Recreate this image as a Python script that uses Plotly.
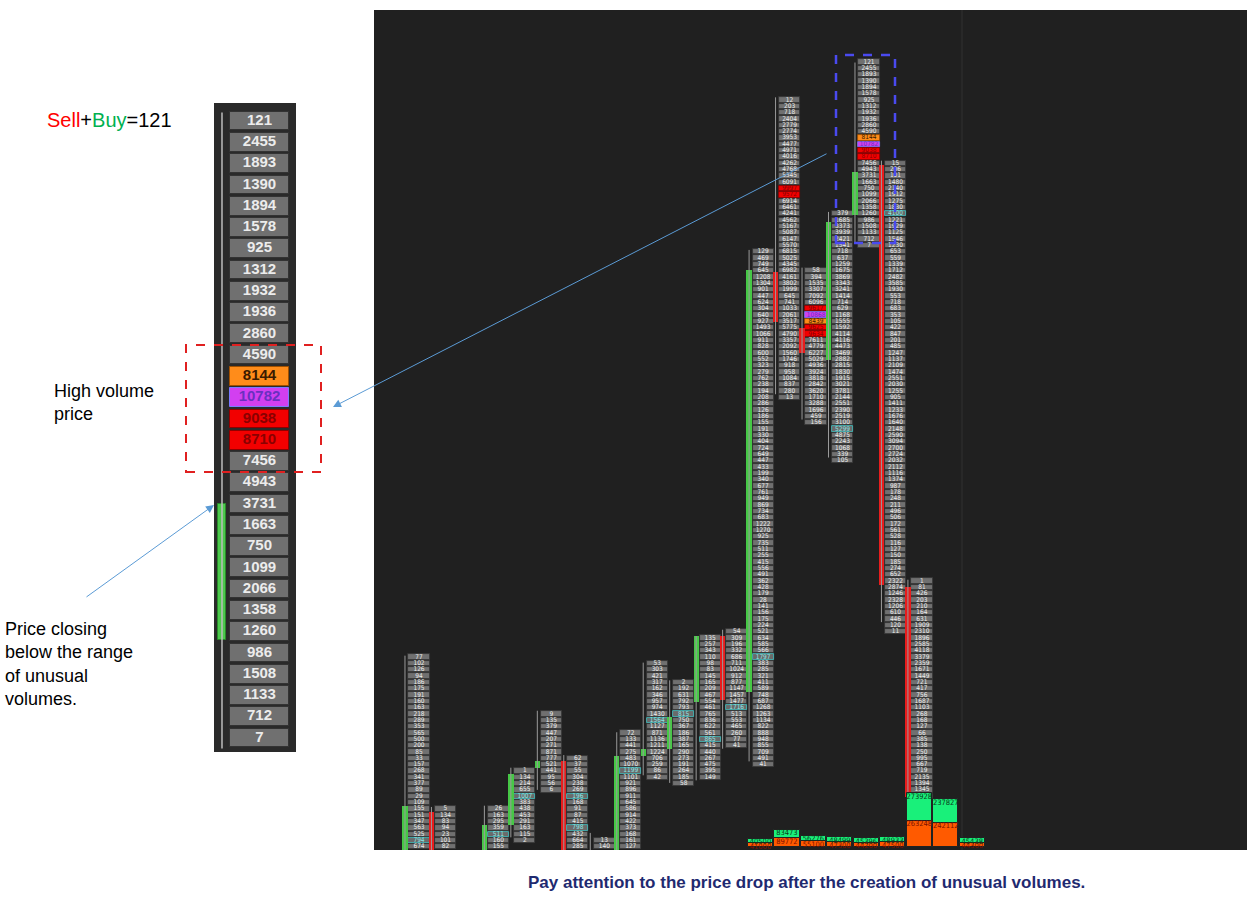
import plotly.graph_objects as go

# ---------------- data ----------------
# left zoomed footprint column (top to bottom)
left_vals = [121, 2455, 1893, 1390, 1894, 1578, 925, 1312, 1932, 1936, 2860, 4590, 8144, 10782,
             9038, 8710, 7456, 4943, 3731, 1663, 750, 1099, 2066, 1358, 1260, 986, 1508, 1133, 712, 7]
left_flags = ["", "", "", "", "", "", "", "", "", "", "", "", "o", "m", "r", "r", "", "", "", "", "",
              "", "", "", "", "", "", "", "", ""]
left_candle = dict(open=4.6, close=11.0, high=29.4, low=-0.5)

# right footprint chart: bar index, top price level, volumes (top to bottom)
bar_index = [0, 1, 3, 4, 5, 6, 7, 8, 9, 10, 11, 12, 13, 14, 15, 16, 17, 18, 19]
bar_top = [30, 6, 6, 12, 21, 14, 1, 18, 29, 26, 33, 34, 94, 118, 91, 100, 124, 108, 42]
bar_vols = [
    [77, 102, 126, 94, 186, 175, 191, 160, 163, 218, 289, 353, 565, 500, 200, 85, 33, 157, 268, 341, 377, 89, 29, 109, 155, 151, 347, 563, 525, 794, 674, 511],
    [5, 134, 83, 94, 23, 101, 82, 222],
    [26, 163, 295, 359, 511, 160, 155, 117],
    [1, 134, 214, 655, 1007, 383, 438, 453, 291, 163, 115, 2],
    [9, 135, 379, 447, 207, 271, 871, 777, 521, 441, 95, 56, 6],
    [62, 37, 55, 304, 238, 269, 196, 168, 91, 87, 415, 798, 432, 664, 285, 123],
    [13, 140, 189],
    [72, 133, 441, 275, 483, 1070, 1199, 1101, 921, 896, 911, 645, 586, 914, 422, 373, 168, 161, 127, 156],
    [53, 303, 421, 317, 162, 346, 957, 974, 1430, 1564, 1127, 871, 1136, 1211, 1224, 706, 259, 86, 42],
    [2, 192, 631, 792, 793, 815, 750, 367, 186, 387, 165, 290, 273, 191, 264, 185, 58],
    [135, 257, 343, 110, 98, 83, 145, 165, 209, 467, 554, 461, 765, 836, 622, 561, 865, 415, 440, 267, 475, 395, 149],
    [54, 309, 196, 332, 686, 711, 1024, 912, 877, 1147, 1457, 1477, 1716, 513, 553, 465, 260, 77, 41],
    [129, 469, 749, 645, 1208, 1304, 901, 447, 624, 304, 640, 927, 1493, 1066, 911, 828, 600, 552, 323, 279, 762, 238, 194, 208, 286, 126, 186, 155, 191, 330, 404, 724, 649, 447, 433, 199, 340, 677, 761, 949, 869, 734, 683, 1222, 1270, 925, 735, 511, 255, 415, 556, 491, 362, 428, 179, 28, 141, 156, 175, 224, 521, 634, 585, 566, 1797, 383, 285, 321, 411, 589, 748, 687, 1268, 1263, 1134, 822, 888, 948, 855, 709, 491, 41],
    [12, 203, 718, 2404, 2779, 2774, 3953, 4477, 4971, 4016, 4262, 4768, 5345, 6091, 9997, 9572, 6914, 6461, 4241, 4562, 5167, 5087, 6147, 5570, 6815, 5025, 4345, 6982, 4161, 3802, 1999, 645, 741, 1033, 2061, 3517, 5775, 4790, 3357, 2092, 1560, 1746, 918, 958, 1084, 837, 280, 13],
    [58, 394, 1535, 3307, 7092, 6096, 9617, 10868, 8439, 9625, 9634, 7611, 4779, 6227, 5029, 4936, 3924, 3818, 2842, 3620, 1710, 3288, 1696, 459, 156],
    [379, 1685, 3373, 3939, 2421, 1541, 718, 637, 1259, 1675, 3869, 3343, 3241, 1414, 714, 629, 1168, 1555, 1592, 4114, 4116, 4473, 3469, 2882, 2815, 1830, 1915, 3021, 3781, 2144, 2551, 2390, 2519, 3100, 5299, 4875, 2243, 1068, 339, 105],
    [121, 2455, 1893, 1390, 1894, 1578, 925, 1312, 1932, 1936, 2860, 4590, 8144, 10782, 9038, 8710, 7456, 4943, 3731, 1663, 750, 1099, 2066, 1358, 1260, 986, 1508, 1133, 712, 7],
    [15, 206, 101, 1480, 2140, 1912, 1275, 1830, 4100, 1221, 1929, 1125, 1546, 1230, 653, 559, 1339, 1712, 2482, 3585, 1930, 553, 718, 683, 353, 105, 422, 847, 201, 485, 1247, 1137, 2109, 1474, 2551, 2030, 1255, 905, 1411, 1233, 1676, 1640, 2148, 2590, 3094, 2700, 2724, 2032, 2112, 1116, 1374, 987, 178, 248, 211, 496, 506, 172, 561, 528, 116, 127, 150, 185, 274, 652, 2322, 2874, 1246, 2328, 1206, 610, 446, 120, 11],
    [1, 81, 426, 203, 210, 164, 631, 1909, 2310, 1896, 2585, 4118, 3379, 2359, 1671, 1449, 721, 417, 756, 1687, 1103, 268, 168, 127, 66, 385, 138, 250, 995, 667, 719, 2135, 1394, 1345, 819],
]
# highlighted cells: (bar position in list, row offset from top, kind)
highlights = [(0, 29, "c"), (3, 4, "c"), (2, 4, "c"), (5, 6, "c"), (5, 11, "c"), (7, 6, "c"),
              (8, 9, "c"), (9, 5, "c"), (10, 16, "c"), (11, 12, "c"), (12, 64, "c"),
              (13, 14, "r"), (13, 15, "r"),
              (14, 6, "r"), (14, 7, "m"), (14, 8, "o"), (14, 9, "r"), (14, 10, "r"),
              (15, 34, "c"), (16, 12, "o"), (16, 13, "m"), (16, 14, "r"), (16, 15, "r"), (17, 8, "c")]
# candles in price levels
c_open = [-1, 6, -1, 4, 13, 14, 0.5, -1, 14.8, 16, 23.4, 33.8, 25, 91.3, 82.5, 77.4, 100.3, 108.2, 41.5]
c_close = [7, -1, 4, 12, 14, -1, 0.5, 14.8, 16, 21, 33.8, 23.7, 91.6, 83.4, 78.5, 99.2, 107.1, 41.9, 8.4]
c_high = [30.7, 6.8, 7, 13, 22, 15, 2.7, 18.6, 29.6, 26.8, 33.8, 34.8, 94.8, 118.9, 92, 100.8, 124.4, 108.9, 42.7]
c_low = [-1, -1, -1, 2, 9.5, -1, -1, -1, 11.8, 10.6, 11, 16, 14, 72, 68, 62, 95.9, 36, 8]

# bottom volume bars
vol_index = [13, 14, 15, 16, 17, 18, 19, 20, 21]
vol_buy = [40500, 83473, 56276, 48499, 45396, 48933, 273928, 237827, 45438]
vol_sell = [41000, 89772, 55100, 47300, 44200, 47500, 263248, 242112, 44300]

caption = "Pay attention to the price drop after the creation of unusual volumes."

# ---------------- figure ----------------
W, H = 1256, 904
fig = go.Figure()

FILL = {"": "#707070", "c": "#6a6a6a", "o": "#ff8c1a", "m": "#d23ff0", "r": "#f20000"}
LINE = {"": "#333333", "c": "#45c8c8", "o": "#a05000", "m": "#7a7aff", "r": "#900000"}
TXT = {"": "#ececec", "c": "#8ee8e8", "o": "#3a1a00", "m": "#6a30c0", "r": "#8a0000"}

# ---- left panel ----
n = len(left_vals)
rows = [n - 1 - i for i in range(n)]
fig.add_trace(go.Bar(x=[0] * n, y=[0.88] * n, base=[r - 0.44 for r in rows], width=0.97,
                     marker=dict(color=[FILL[f] for f in left_flags],
                                 line=dict(color=[LINE[f] for f in left_flags], width=1)),
                     xaxis="x", yaxis="y", hoverinfo="skip", showlegend=False))
fig.add_trace(go.Scatter(x=[0] * n, y=rows, mode="text", text=[f"<b>{v}</b>" for v in left_vals],
                         textfont=dict(size=15, color=[TXT[f] for f in left_flags], family="Liberation Sans"),
                         xaxis="x", yaxis="y", hoverinfo="skip", showlegend=False))
fig.add_trace(go.Scatter(x=[-0.615, -0.615], y=[left_candle["low"], left_candle["high"]], mode="lines",
                         line=dict(color="#bdbdbd", width=1.5), xaxis="x", yaxis="y",
                         hoverinfo="skip", showlegend=False))
fig.add_trace(go.Bar(x=[-0.615], y=[left_candle["close"] - left_candle["open"]], base=[left_candle["open"]],
                     width=0.115, marker=dict(color="#4cc84c", line=dict(color="#2a8a2a", width=1)),
                     xaxis="x", yaxis="y", hoverinfo="skip", showlegend=False))

# ---- right panel: cells ----
flagmap = {}
for b, k, kind in highlights:
    flagmap[(b, k)] = kind
cx, cb, cf, cl, tx, ty, tt, tc = [], [], [], [], [], [], [], []
for b, (xi, top, vols) in enumerate(zip(bar_index, bar_top, bar_vols)):
    for k, v in enumerate(vols):
        r = top - k
        f = flagmap.get((b, k), "")
        cx.append(xi); cb.append(r + 0.08); cf.append(FILL[f]); cl.append(LINE[f])
        tx.append(xi); ty.append(r + 0.5); tt.append(str(v)); tc.append(TXT[f])
fig.add_trace(go.Bar(x=cx, y=[0.84] * len(cx), base=cb, width=0.8,
                     marker=dict(color=cf, line=dict(color=cl, width=0.8)),
                     xaxis="x2", yaxis="y2", hoverinfo="skip", showlegend=False))
fig.add_trace(go.Scatter(x=tx, y=ty, mode="text", text=tt,
                         textfont=dict(size=6.5, color=tc, family="DejaVu Sans Condensed"),
                         xaxis="x2", yaxis="y2", hoverinfo="skip", showlegend=False))

# candles
wx, wy = [], []
for xi, hi, lo in zip(bar_index, c_high, c_low):
    wx += [xi - 0.53, xi - 0.53, None]
    wy += [lo, hi, None]
fig.add_trace(go.Scatter(x=wx, y=wy, mode="lines", line=dict(color="#9a9a9a", width=1),
                         xaxis="x2", yaxis="y2", hoverinfo="skip", showlegend=False))
bx, bh, bb, bc = [], [], [], []
for xi, o, c in zip(bar_index, c_open, c_close):
    if abs(c - o) < 0.01:
        continue
    bx.append(xi - 0.53); bb.append(min(o, c)); bh.append(abs(c - o))
    bc.append("#46c846" if c > o else "#e81c1c")
fig.add_trace(go.Bar(x=bx, y=bh, base=bb, width=0.2, marker=dict(color=bc, line=dict(width=0)),
                     xaxis="x2", yaxis="y2", hoverinfo="skip", showlegend=False))

# volume bars
vx = [i - 0.1 for i in vol_index]
fig.add_trace(go.Bar(x=vx, y=vol_sell, width=0.95, marker=dict(color="#ff5a00", line=dict(color="#222", width=1)),
                     xaxis="x2", yaxis="y3", hoverinfo="skip", showlegend=False))
fig.add_trace(go.Bar(x=vx, y=vol_buy, base=vol_sell, width=0.95,
                     marker=dict(color="#19f07a", line=dict(color="#222", width=1)),
                     xaxis="x2", yaxis="y3", hoverinfo="skip", showlegend=False))
fig.add_trace(go.Scatter(x=vx, y=vol_sell, mode="text", text=[str(v) for v in vol_sell],
                         textposition="bottom center", cliponaxis=True,
                         textfont=dict(size=7.5, color="#7a1000", family="DejaVu Sans Condensed"),
                         xaxis="x2", yaxis="y3", hoverinfo="skip", showlegend=False))
fig.add_trace(go.Scatter(x=vx, y=[s + b for s, b in zip(vol_sell, vol_buy)], mode="text",
                         text=[str(v) for v in vol_buy],
                         textposition="bottom center", cliponaxis=True,
                         textfont=dict(size=7.5, color="#0a3a1a", family="DejaVu Sans Condensed"),
                         xaxis="x2", yaxis="y3", hoverinfo="skip", showlegend=False))

xl0, xl1 = 214 / W, 296 / W
yl0, yl1 = 1 - 752 / H, 1 - 103 / H
xr0, xr1 = 374 / W, 1247 / W
yr0, yr1 = 1 - 850 / H, 1 - 10 / H

ax_off = dict(showgrid=False, zeroline=False, showticklabels=False, ticks="", fixedrange=True)
fig.update_layout(
    width=W, height=H, margin=dict(l=0, r=0, t=0, b=0),
    paper_bgcolor="white", plot_bgcolor="rgba(0,0,0,0)",
    barmode="overlay", bargap=0, showlegend=False,
    xaxis=dict(domain=[xl0, xl1], range=[-0.746, 0.598], **ax_off),
    yaxis=dict(domain=[yl0, yl1], range=[-0.66, 29.85], **ax_off),
    xaxis2=dict(domain=[xr0, xr1], range=[-1.70, 31.28], anchor="y2", **ax_off),
    yaxis2=dict(domain=[yr0, yr1], range=[0, 132.7], anchor="x2", **ax_off),
    yaxis3=dict(domain=[yr0, yr1], range=[-30000, 8.37e6], overlaying="y2", anchor="x2", **ax_off),
)

shapes = [
    dict(type="rect", xref="paper", yref="paper", x0=xl0, x1=xl1, y0=yl0, y1=yl1,
         fillcolor="#2a2a2a", line=dict(width=0), layer="below"),
    dict(type="rect", xref="paper", yref="paper", x0=xr0, x1=xr1, y0=yr0, y1=yr1,
         fillcolor="#202020", line=dict(width=0), layer="below"),
    dict(type="line", xref="paper", yref="paper", x0=962 / W, x1=962 / W, y0=yr0, y1=yr1,
         line=dict(color="#303030", width=1), layer="below"),
    dict(type="rect", xref="paper", yref="paper", x0=186 / W, x1=321 / W, y0=1 - 472 / H, y1=1 - 345 / H,
         line=dict(color="#e02020", width=2, dash="dash")),
    dict(type="rect", xref="paper", yref="paper", x0=836 / W, x1=895 / W, y0=1 - 243 / H, y1=1 - 55 / H,
         line=dict(color="#4a4af0", width=2.5, dash="dash")),
]
fig.update_layout(shapes=shapes)

ann = [
    dict(x=45 / W, y=1 - 120 / H, xanchor="left", yanchor="middle",
         text="<span style='color:#ff0000'>Sell</span>+<span style='color:#00b050'>Buy</span>=121",
         font=dict(size=20, color="black", family="Liberation Sans")),
    dict(x=52 / W, y=1 - 402 / H, xanchor="left", yanchor="middle", align="left",
         text="High volume<br>price", font=dict(size=18, color="black", family="Liberation Sans")),
    dict(x=3 / W, y=1 - 664 / H, xanchor="left", yanchor="middle", align="left",
         text="Price closing<br>below the range<br>of unusual<br>volumes.",
         font=dict(size=18, color="black", family="Liberation Sans")),
    dict(x=806 / W, y=1 - 882 / H, xanchor="center", yanchor="middle",
         text="<b>" + caption + "</b>", font=dict(size=17, color="#1f2a70", family="Liberation Sans")),
    dict(x=333 / W, y=1 - 407 / H, ax=495, ay=-254, text="", showarrow=True, arrowhead=2, arrowsize=1.6,
         arrowwidth=1, arrowcolor="#5b9bd5"),
    dict(x=214 / W, y=1 - 505 / H, ax=-129, ay=93, text="", showarrow=True, arrowhead=2, arrowsize=1.6,
         arrowwidth=1, arrowcolor="#5b9bd5"),
]
for a in ann:
    a.setdefault("xref", "paper"); a.setdefault("yref", "paper")
    a.setdefault("showarrow", False)
fig.update_layout(annotations=ann)

fig.write_html("out.html", config={"displayModeBar": False},
               post_script="document.body.style.margin='0';")
